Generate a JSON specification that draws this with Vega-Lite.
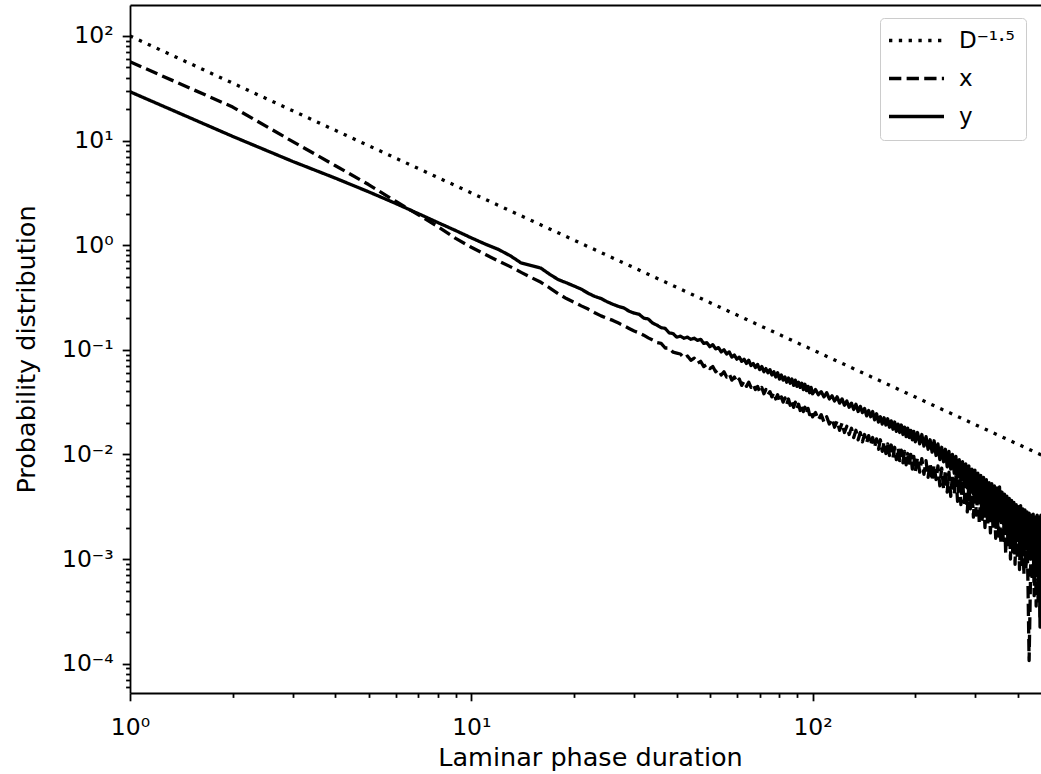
{
"$schema": "https://vega.github.io/schema/vega-lite/v6.json",
"width": 911, "height": 688,
"autosize": {"type": "none"},
"padding": {"left": 130, "top": 5, "right": 0, "bottom": 81},
"config": {
  "view": {"stroke": null},
  "font": "DejaVu Sans",
  "axis": {"grid": false, "domainColor": "black", "domainWidth": 1.8, "tickColor": "black", "tickWidth": 1.8,
    "labelColor": "black", "titleColor": "black", "labelFont": "DejaVu Sans", "titleFont": "DejaVu Sans",
    "labelFontSize": 23.5, "titleFontSize": 25.5, "titleFontWeight": "normal", "labelOverlap": false, "labelFlush": false},
  "legend": {"labelFont": "DejaVu Sans", "labelFontSize": 23, "labelColor": "black"}
},
"layer": [
{
  "data": {"values": [
{"d":1,"x":56.8,"y":29.3},{"d":2,"x":20.9,"y":10.96},{"d":3,"x":9.77,"y":6.31},{"d":4,"x":5.75,"y":4.37},{"d":5,"x":3.80,"y":3.24},
{"d":6,"x":2.63,"y":2.51},{"d":7,"x":1.95,"y":2.00},{"d":8,"x":1.50,"y":1.64},{"d":9,"x":1.161,"y":1.38},{"d":10,"x":0.955,"y":1.175},
{"d":11,"x":0.813,"y":1.023},{"d":12,"x":0.708,"y":0.912},{"d":13,"x":0.624,"y":0.794},{"d":14,"x":0.550,"y":0.676},{"d":15,"x":0.490,"y":0.638},
{"d":16,"x":0.442,"y":0.603},{"d":17,"x":0.389,"y":0.525},{"d":18,"x":0.343,"y":0.468},{"d":19,"x":0.309,"y":0.437},{"d":20,"x":0.285,"y":0.407},
{"d":21,"x":0.263,"y":0.380},{"d":22,"x":0.245,"y":0.347},{"d":23,"x":0.226,"y":0.324},{"d":24,"x":0.211,"y":0.309},{"d":25,"x":0.200,"y":0.288},
{"d":26,"x":0.191,"y":0.272},{"d":27,"x":0.180,"y":0.260},{"d":28,"x":0.170,"y":0.251},{"d":29,"x":0.160,"y":0.234},{"d":30,"x":0.151,"y":0.224},
{"d":31,"x":0.145,"y":0.219},{"d":32,"x":0.138,"y":0.201},{"d":33,"x":0.130,"y":0.197},{"d":34,"x":0.124,"y":0.180},{"d":35,"x":0.117,"y":0.172},
{"d":36,"x":0.115,"y":0.163},{"d":37,"x":0.104,"y":0.160},{"d":38,"x":0.104,"y":0.145},{"d":39,"x":0.095,"y":0.143},{"d":40,"x":0.093,"y":0.132},
{"d":41,"x":0.0912,"y":0.135},{"d":42,"x":0.0832,"y":0.129},{"d":43,"x":0.0871,"y":0.132},{"d":44,"x":0.0794,"y":0.126},{"d":45,"x":0.0832,"y":0.129},
{"d":46,"x":0.0741,"y":0.123},{"d":47,"x":0.0776,"y":0.126},{"d":48,"x":0.0692,"y":0.115},{"d":49,"x":0.0724,"y":0.117},{"d":50,"x":0.0661,"y":0.107},
{"d":51,"x":0.0692,"y":0.112},{"d":52,"x":0.0617,"y":0.102},{"d":53,"x":0.0646,"y":0.105},{"d":54,"x":0.0575,"y":0.0955},{"d":55,"x":0.0617,"y":0.100},
{"d":56,"x":0.0550,"y":0.0912},{"d":57,"x":0.0589,"y":0.0955},{"d":58,"x":0.0513,"y":0.0851},{"d":59,"x":0.0550,"y":0.0891},{"d":60,"x":0.0490,"y":0.0813},
{"d":61,"x":0.0525,"y":0.0851},{"d":62,"x":0.0457,"y":0.0776},{"d":63,"x":0.0501,"y":0.0813},{"d":64,"x":0.0447,"y":0.0741},{"d":65,"x":0.0490,"y":0.0794},
{"d":66,"x":0.0437,"y":0.0708},{"d":67,"x":0.0468,"y":0.0741},{"d":68,"x":0.0417,"y":0.0676},{"d":69,"x":0.0447,"y":0.0724},{"d":70,"x":0.0398,"y":0.0646},
{"d":71,"x":0.0437,"y":0.0692},{"d":72,"x":0.0380,"y":0.0617},{"d":73,"x":0.0417,"y":0.0661},{"d":74,"x":0.0372,"y":0.0603},{"d":75,"x":0.0398,"y":0.0646},
{"d":76,"x":0.0355,"y":0.0575},{"d":77,"x":0.0389,"y":0.0617},{"d":78,"x":0.0339,"y":0.0550},{"d":79,"x":0.0372,"y":0.0603},{"d":80,"x":0.0324,"y":0.0525},
{"d":81,"x":0.0355,"y":0.0575},{"d":82,"x":0.0316,"y":0.0513},{"d":83,"x":0.0347,"y":0.0550},{"d":84,"x":0.0302,"y":0.0490},{"d":85,"x":0.0339,"y":0.0537},
{"d":86,"x":0.0295,"y":0.0479},{"d":87,"x":0.0324,"y":0.0525},{"d":88,"x":0.0282,"y":0.0457},{"d":89,"x":0.0316,"y":0.0513},{"d":90,"x":0.0275,"y":0.0447},
{"d":91,"x":0.0302,"y":0.0490},{"d":92,"x":0.0263,"y":0.0437},{"d":93,"x":0.0295,"y":0.0479},{"d":94,"x":0.0257,"y":0.0417},{"d":95,"x":0.0282,"y":0.0468},
{"d":96,"x":0.0245,"y":0.0407},{"d":97,"x":0.0275,"y":0.0447},{"d":98,"x":0.0240,"y":0.0389},{"d":99,"x":0.0263,"y":0.0437},{"d":100,"x":0.0229,"y":0.0380},
{"d":102,"x":0.0251,"y":0.0417},{"d":104,"x":0.0214,"y":0.0372},{"d":106,"x":0.0240,"y":0.0398},{"d":108,"x":0.0204,"y":0.0355},{"d":110,"x":0.0229,"y":0.0389},
{"d":112,"x":0.0195,"y":0.0339},{"d":114,"x":0.0219,"y":0.0363},{"d":116,"x":0.0182,"y":0.0324},{"d":118,"x":0.0209,"y":0.0355},{"d":120,"x":0.0170,"y":0.0309},
{"d":122,"x":0.0200,"y":0.0339},{"d":124,"x":0.0162,"y":0.0295},{"d":126,"x":0.0186,"y":0.0324},{"d":128,"x":0.0155,"y":0.0282},{"d":130,"x":0.0178,"y":0.0309},
{"d":132,"x":0.0145,"y":0.0269},{"d":134,"x":0.0170,"y":0.0302},{"d":136,"x":0.0138,"y":0.0257},{"d":138,"x":0.0162,"y":0.0288},{"d":140,"x":0.0132,"y":0.0251},
{"d":142,"x":0.0155,"y":0.0275},{"d":144,"x":0.0129,"y":0.0234},{"d":146,"x":0.0151,"y":0.0263},{"d":148,"x":0.0123,"y":0.0229},{"d":150,"x":0.0145,"y":0.0257},
{"d":152,"x":0.0117,"y":0.0214},{"d":154,"x":0.0141,"y":0.0245},{"d":156,"x":0.0112,"y":0.0204},{"d":158,"x":0.0138,"y":0.0229},{"d":160,"x":0.0107,"y":0.0195},
{"d":162,"x":0.0132,"y":0.0224},{"d":164,"x":0.0102,"y":0.0191},{"d":166,"x":0.0126,"y":0.0219},{"d":168,"x":0.00977,"y":0.0182},{"d":170,"x":0.0123,"y":0.0209},
{"d":172,"x":0.00933,"y":0.0174},{"d":174,"x":0.0117,"y":0.0204},{"d":176,"x":0.00891,"y":0.0166},{"d":178,"x":0.0115,"y":0.0195},{"d":180,"x":0.00871,"y":0.0162},
{"d":182,"x":0.0110,"y":0.0191},{"d":184,"x":0.00832,"y":0.0155},{"d":186,"x":0.0107,"y":0.0182},{"d":188,"x":0.00794,"y":0.0148},{"d":190,"x":0.0102,"y":0.0178},
{"d":192,"x":0.00759,"y":0.0145},{"d":194,"x":0.0100,"y":0.0170},{"d":196,"x":0.00724,"y":0.0138},{"d":198,"x":0.00955,"y":0.0166},{"d":200,"x":0.00692,"y":0.0132},
{"d":203,"x":0.00933,"y":0.0162},{"d":206,"x":0.00676,"y":0.0126},{"d":209,"x":0.00912,"y":0.0155},{"d":212,"x":0.00646,"y":0.0120},{"d":215,"x":0.00871,"y":0.0148},
{"d":218,"x":0.00603,"y":0.0112},{"d":221,"x":0.00832,"y":0.0138},{"d":224,"x":0.00562,"y":0.0105},{"d":227,"x":0.00794,"y":0.0135},{"d":230,"x":0.00575,"y":0.00977},
{"d":233,"x":0.00776,"y":0.0126},{"d":236,"x":0.00501,"y":0.00891},{"d":239,"x":0.00741,"y":0.0117},{"d":242,"x":0.00468,"y":0.00851},{"d":245,"x":0.00708,"y":0.0112},
{"d":248,"x":0.00437,"y":0.00759},{"d":251,"x":0.00676,"y":0.0107},{"d":254,"x":0.00398,"y":0.00724},{"d":257,"x":0.00646,"y":0.0100},{"d":260,"x":0.00417,"y":0.00661},
{"d":263,"x":0.00631,"y":0.00955},{"d":266,"x":0.00355,"y":0.00603},{"d":269,"x":0.00603,"y":0.00891},{"d":272,"x":0.00331,"y":0.00562},{"d":275,"x":0.00575,"y":0.00851},
{"d":278,"x":0.00347,"y":0.00537},{"d":281,"x":0.00550,"y":0.00813},{"d":284,"x":0.00282,"y":0.00479},{"d":287,"x":0.00525,"y":0.00776},{"d":290,"x":0.00302,"y":0.00447},
{"d":293,"x":0.00501,"y":0.00724},{"d":296,"x":0.00251,"y":0.00417},{"d":299,"x":0.00479,"y":0.00708},{"d":302,"x":0.00263,"y":0.00389},{"d":305,"x":0.00457,"y":0.00661},
{"d":308,"x":0.00219,"y":0.00355},{"d":311,"x":0.00437,"y":0.00631},{"d":314,"x":0.00240,"y":0.00339},{"d":317,"x":0.00417,"y":0.00603},{"d":320,"x":0.00200,"y":0.00316},
{"d":323,"x":0.00398,"y":0.00575},{"d":326,"x":0.00209,"y":0.00282},{"d":329,"x":0.00380,"y":0.00537},{"d":332,"x":0.00178,"y":0.00263},{"d":335,"x":0.00363,"y":0.00525},
{"d":338,"x":0.00191,"y":0.00251},{"d":341,"x":0.00347,"y":0.00501},{"d":344,"x":0.00158,"y":0.00251},{"d":347,"x":0.00331,"y":0.00479},{"d":350,"x":0.00166,"y":0.00240},
{"d":353,"x":0.00316,"y":0.00490},{"d":356,"x":0.00141,"y":0.00229},{"d":359,"x":0.00302,"y":0.00437},{"d":362,"x":0.00151,"y":0.00219},{"d":365,"x":0.00288,"y":0.00417},
{"d":368,"x":0.00112,"y":0.00200},{"d":371,"x":0.00275,"y":0.00398},{"d":374,"x":0.00132,"y":0.00191},{"d":377,"x":0.00263,"y":0.00380},{"d":380,"x":0.00100,"y":0.00178},
{"d":383,"x":0.00251,"y":0.00363},{"d":386,"x":0.00112,"y":0.00166},{"d":389,"x":0.00240,"y":0.00347},{"d":392,"x":0.000891,"y":0.00158},{"d":395,"x":0.00229,"y":0.00331},
{"d":398,"x":0.00100,"y":0.00151},{"d":401,"x":0.00219,"y":0.00316},{"d":404,"x":0.000794,"y":0.00141},{"d":407,"x":0.00209,"y":0.00324},{"d":410,"x":0.000891,"y":0.00132},
{"d":413,"x":0.00200,"y":0.00302},{"d":416,"x":0.000708,"y":0.00120},{"d":419,"x":0.00191,"y":0.00295},{"d":422,"x":0.000794,"y":0.00126},{"d":425,"x":0.00182,"y":0.00282},
{"d":428,"x":0.000501,"y":0.00110},{"d":431,"x":0.000107,"y":0.00275},{"d":434,"x":0.000398,"y":0.00100},{"d":437,"x":0.00166,"y":0.00263},{"d":440,"x":0.000631,"y":0.00105},
{"d":443,"x":0.00158,"y":0.00269},{"d":446,"x":0.000447,"y":0.000891},{"d":449,"x":0.00151,"y":0.00251},{"d":452,"x":0.000355,"y":0.000832},{"d":455,"x":0.00145,"y":0.00263},
{"d":458,"x":0.000398,"y":0.000794},{"d":461,"x":0.00138,"y":0.00251},{"d":464,"x":0.000282,"y":0.000224},{"d":467,"x":0.00132,"y":0.00263},{"d":470,"x":0.000316,"y":0.00100}
  ]},
  "transform": [{"fold": ["x", "y"], "as": ["s", "p"]}],
  "mark": {"type": "line", "clip": true, "strokeWidth": 3.3, "color": "black", "strokeJoin": "round"},
  "encoding": {
    "x": {"field": "d", "type": "quantitative",
      "scale": {"type": "log", "domain": [1, 467], "nice": false, "zero": false},
      "axis": {"orient": "bottom", "title": "Laminar phase duration",
        "values": [1,2,3,4,5,6,7,8,9,10,20,30,40,50,60,70,80,90,100,200,300,400],
        "labelExpr": "datum.value === 1 ? '10⁰' : datum.value === 10 ? '10¹' : datum.value === 100 ? '10²' : ''",
        "tickSize": {"condition": {"test": "indexof([1,10,100], datum.value) >= 0", "value": 7.8}, "value": 4.4},
        "labelPadding": 15, "titleX": 460, "titleY": 72, "titleAlign": "center", "titleBaseline": "alphabetic"}},
    "y": {"field": "p", "type": "quantitative",
      "scale": {"type": "log", "domain": [0.0000524, 197.7], "nice": false, "zero": false},
      "axis": {"title": "Probability distribution",
        "values": [0.00006,0.00007,0.00008,0.00009,0.0001,0.0002,0.0003,0.0004,0.0005,0.0006,0.0007,0.0008,0.0009,0.001,0.002,0.003,0.004,0.005,0.006,0.007,0.008,0.009,0.01,0.02,0.03,0.04,0.05,0.06,0.07,0.08,0.09,0.1,0.2,0.3,0.4,0.5,0.6,0.7,0.8,0.9,1,2,3,4,5,6,7,8,9,10,20,30,40,50,60,70,80,90,100],
        "labelExpr": "datum.value === 100 ? '10²' : datum.value === 10 ? '10¹' : datum.value === 1 ? '10⁰' : datum.value === 0.1 ? '10⁻¹' : datum.value === 0.01 ? '10⁻²' : datum.value === 0.001 ? '10⁻³' : datum.value === 0.0001 ? '10⁻⁴' : ''",
        "tickSize": {"condition": {"test": "indexof([0.0001,0.001,0.01,0.1,1,10,100], datum.value) >= 0", "value": 7.8}, "value": 4.4},
        "labelPadding": 9, "titleX": -96, "titleY": 344, "titleAlign": "center", "titleBaseline": "alphabetic", "titleAngle": 270}},
    "strokeDash": {"field": "s", "type": "nominal",
      "scale": {"domain": ["D⁻¹·⁵", "x", "y"], "range": [[3.3, 6.5], [12.3, 5.3], [1, 0]]},
      "legend": {"orient": "none", "legendX": 750, "legendY": 13, "title": null, "symbolType": "M-2.45,0H7.55", "symbolSize": 121,
        "symbolStrokeWidth": 3.3, "symbolStrokeColor": "black", "symbolFillColor": "transparent", "labelOffset": 45, "rowPadding": 14, "padding": 11,
        "labelExpr": "datum.label === 'x' || datum.label === 'y' ? datum.label : datum.label + '\u00a0\u00a0'",
        "strokeColor": "#cccccc", "fillColor": "white", "cornerRadius": 4}}
  }
},
{
  "data": {"values": [
    {"d":1,"s":"D⁻¹·⁵","p":100},{"d":3,"s":"D⁻¹·⁵","p":19.25},{"d":10,"s":"D⁻¹·⁵","p":3.162},{"d":30,"s":"D⁻¹·⁵","p":0.6086},
    {"d":100,"s":"D⁻¹·⁵","p":0.1},{"d":300,"s":"D⁻¹·⁵","p":0.01925},{"d":470,"s":"D⁻¹·⁵","p":0.009814}
  ]},
  "mark": {"type": "line", "clip": true, "strokeWidth": 3.3, "color": "black"},
  "encoding": {
    "x": {"field": "d", "type": "quantitative",
      "scale": {"type": "log", "domain": [1, 467], "nice": false, "zero": false},
      "axis": {"orient": "top", "title": null, "labels": false, "ticks": false, "domain": true}},
    "y": {"field": "p", "type": "quantitative",
      "scale": {"type": "log", "domain": [0.0000524, 197.7], "nice": false, "zero": false},
      "axis": {"title": "Probability distribution",
        "values": [0.00006,0.00007,0.00008,0.00009,0.0001,0.0002,0.0003,0.0004,0.0005,0.0006,0.0007,0.0008,0.0009,0.001,0.002,0.003,0.004,0.005,0.006,0.007,0.008,0.009,0.01,0.02,0.03,0.04,0.05,0.06,0.07,0.08,0.09,0.1,0.2,0.3,0.4,0.5,0.6,0.7,0.8,0.9,1,2,3,4,5,6,7,8,9,10,20,30,40,50,60,70,80,90,100],
        "labelExpr": "datum.value === 100 ? '10²' : datum.value === 10 ? '10¹' : datum.value === 1 ? '10⁰' : datum.value === 0.1 ? '10⁻¹' : datum.value === 0.01 ? '10⁻²' : datum.value === 0.001 ? '10⁻³' : datum.value === 0.0001 ? '10⁻⁴' : ''",
        "tickSize": {"condition": {"test": "indexof([0.0001,0.001,0.01,0.1,1,10,100], datum.value) >= 0", "value": 7.8}, "value": 4.4},
        "labelPadding": 9, "titleX": -96, "titleY": 344, "titleAlign": "center", "titleBaseline": "alphabetic", "titleAngle": 270}},
    "strokeDash": {"field": "s", "type": "nominal",
      "scale": {"domain": ["D⁻¹·⁵", "x", "y"], "range": [[3.3, 6.5], [12.3, 5.3], [1, 0]]},
      "legend": {"orient": "none", "legendX": 750, "legendY": 13, "title": null, "symbolType": "M-2.45,0H7.55", "symbolSize": 121,
        "symbolStrokeWidth": 3.3, "symbolStrokeColor": "black", "symbolFillColor": "transparent", "labelOffset": 45, "rowPadding": 14, "padding": 11,
        "labelExpr": "datum.label === 'x' || datum.label === 'y' ? datum.label : datum.label + '\u00a0\u00a0'",
        "strokeColor": "#cccccc", "fillColor": "white", "cornerRadius": 4}}
  }
}
],
"resolve": {"axis": {"x": "independent"}}
}
